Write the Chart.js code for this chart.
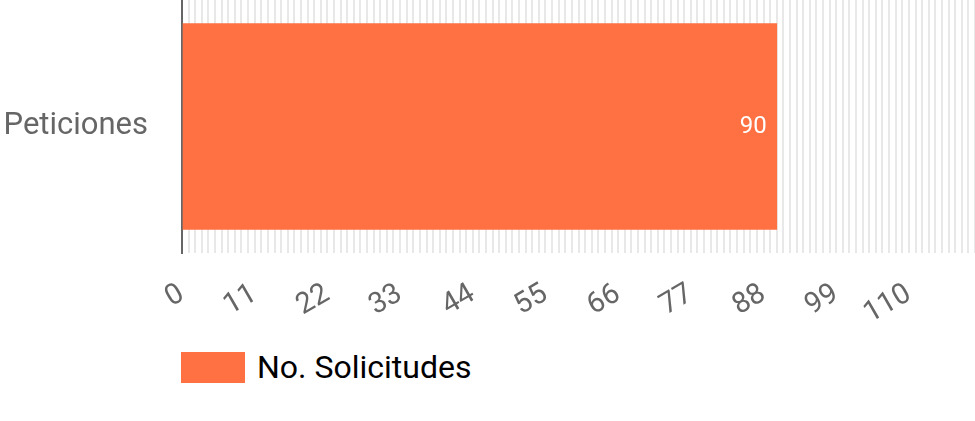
<!DOCTYPE html>
<html>
<head>
<meta charset="utf-8">
<script src="https://cdn.jsdelivr.net/npm/chart.js@4"></script>
<style>
  html, body { margin: 0; padding: 0; background: #fff; }
  #wrap { position: relative; width: 975px; height: 421px; }
  #box { position: absolute; left: 0; top: 0; width: 975px; height: 340px; }
  #legend { position: absolute; left: 181px; top: 348px; display: flex; align-items: center;
            font-family: Roboto, sans-serif; font-size: 32px; color: #000; }
  #legend span.sw { display: inline-block; width: 64px; height: 31px; margin-right: 12px; }
</style>
</head>
<body>
<div id="wrap">
  <div id="box"><canvas id="chart"></canvas></div>
  <div id="legend"></div>
</div>
<script>
const categories = ['Peticiones'];
const seriesName = 'No. Solicitudes';
const seriesValues = [90];
const tickStep = 11;
const axisMax = 120;
const barColor = '#FF7043';

// legend in html
const legend = document.getElementById('legend');
legend.innerHTML = '<span class="sw" style="background:' + barColor + '"></span><span>' + seriesName + '</span>';

// value labels inside the end of the bar
const valueLabels = {
    id: 'valueLabels',
    afterDatasetsDraw(chart) {
        const ctx = chart.ctx;
        const meta = chart.getDatasetMeta(0);
        ctx.save();
        ctx.font = '24px Roboto, sans-serif';
        ctx.fillStyle = '#fff';
        ctx.textAlign = 'right';
        ctx.textBaseline = 'middle';
        meta.data.forEach((bar, i) => {
            ctx.fillText(String(seriesValues[i]), bar.x - 10, bar.y);
        });
        ctx.restore();
    }
};

const ctx = document.getElementById('chart').getContext('2d');
new Chart(ctx, {
    type: 'bar',
    data: {
        labels: categories,
        datasets: [{
            label: seriesName,
            data: seriesValues,
            backgroundColor: barColor,
            barThickness: 206
        }]
    },
    options: {
        indexAxis: 'y',
        responsive: true,
        maintainAspectRatio: false,
        animation: false,
        layout: {padding: 0},
        plugins: {
            legend: {display: false},
            tooltip: {enabled: false}
        },
        scales: {
            x: {
                min: 0,
                max: axisMax,
                afterFit: s => {
                    s.height = 87;
                    s.paddingLeft = 0;
                    s.paddingRight = 0;
                },
                grid: {color: '#e8e8e8', lineWidth: 2, drawTicks: false},
                border: {display: false},
                ticks: {
                    stepSize: 1,
                    autoSkip: false,
                    minRotation: 30,
                    maxRotation: 30,
                    padding: 24,
                    color: '#666',
                    font: {family: 'Roboto', size: 29},
                    callback: v => (v % tickStep === 0 ? v : '')
                }
            },
            y: {
                afterFit: s => {
                    s.width = 182;
                    s.paddingTop = 0;
                    s.paddingBottom = 0;
                },
                grid: {display: false},
                border: {display: true, color: '#666', width: 2},
                ticks: {
                    padding: 26,
                    color: '#666',
                    font: {family: 'Roboto', size: 31}
                }
            }
        }
    },
    plugins: [valueLabels]
});
</script>
</body>
</html>
